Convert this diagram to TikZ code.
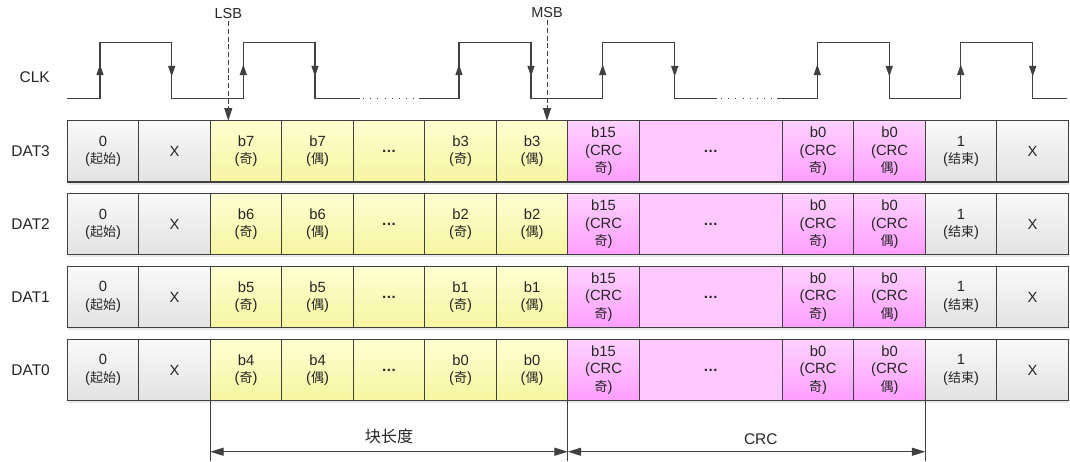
\documentclass[tikz,border=0pt]{standalone}
\usepackage{fontspec}
\setmainfont{Liberation Sans}
\newfontfamily\cjk{Noto Sans CJK SC}[Scale=0.88]
\usetikzlibrary{arrows.meta, positioning, calc, shadows}
\definecolor{wire}{RGB}{64,64,64}
\definecolor{idlehi}{RGB}{249,249,249}
\definecolor{idlelo}{RGB}{226,226,226}
\definecolor{datahi}{RGB}{255,255,210}
\definecolor{datalo}{RGB}{245,245,160}
\definecolor{crchi}{RGB}{255,210,255}
\definecolor{crclo}{RGB}{255,158,255}
\definecolor{crcflat}{RGB}{255,200,255}

\begin{document}
\begin{tikzpicture}[x=0.025cm, y=-0.025cm,
  cell/.style={rectangle, draw=wire, line width=0.75pt, text=black!85, minimum width=1.787cm, minimum height=1.533cm, inner sep=0pt, outer sep=0pt, align=center, font=\fontsize{10.5}{12.5}\selectfont, drop shadow={shadow xshift=0.4pt, shadow yshift=-1.8pt, opacity=0.18}},
  idlecell/.style={cell, top color=idlehi, bottom color=idlelo},
  datacell/.style={cell, top color=datahi, bottom color=datalo},
  crccell/.style={cell, top color=crchi, bottom color=crclo},
  crcdots/.style={cell, fill=crcflat, minimum width=3.574cm},
  sig/.style={font=\fontsize{11}{13}\selectfont, text=black!85, inner sep=0pt},
  clkwave/.style={wire, line width=0.8pt},
  edgearr/.style={wire, line width=0.8pt, -{Triangle[length=7.5pt, width=5pt]}},
  probe/.style={wire, line width=0.7pt, dash pattern=on 3.5pt off 2pt, -{Triangle[length=9pt, width=5.7pt]}},
  dimarr/.style={wire, line width=0.7pt, {Triangle[length=9.5pt, width=5.7pt]}-{Triangle[length=9.5pt, width=5.7pt]}}
]
\useasboundingbox (0,0) rectangle (1070,461);

% data lines
\foreach \lane/\hib/\lob [count=\r from 0] in {DAT3/b7/b3, DAT2/b6/b2, DAT1/b5/b1, DAT0/b4/b0} {
  \node[idlecell] (\lane-0) at (103.04, {151.35+72.9*\r}) {0\\({\cjk 起始})};
  \node[idlecell, right=0pt of \lane-0] (\lane-1) {X};
  \node[datacell, right=0pt of \lane-1] (\lane-2) {\hib\\({\cjk 奇})};
  \node[datacell, right=0pt of \lane-2] (\lane-3) {\hib\\({\cjk 偶})};
  \node[datacell, right=0pt of \lane-3] (\lane-4) {\textbf{…}};
  \node[datacell, right=0pt of \lane-4] (\lane-5) {\lob\\({\cjk 奇})};
  \node[datacell, right=0pt of \lane-5] (\lane-6) {\lob\\({\cjk 偶})};
  \node[crccell, right=0pt of \lane-6] (\lane-7) {b15\\(CRC\\{\cjk 奇})};
  \node[crcdots, right=0pt of \lane-7] (\lane-8) {\textbf{…}};
  \node[crccell, right=0pt of \lane-8] (\lane-9) {b0\\(CRC\\{\cjk 奇})};
  \node[crccell, right=0pt of \lane-9] (\lane-10) {b0\\(CRC\\{\cjk 偶})};
  \node[idlecell, right=0pt of \lane-10] (\lane-11) {1\\({\cjk 结束})};
  \node[idlecell, right=0pt of \lane-11] (\lane-12) {X};
  \node[sig, left=0.43cm of \lane-0] (\lane-name) {\lane};
}

% clock
\node[sig, anchor=east] (clk) at (50,77) {CLK};
\draw[clkwave] (67.3,98.7) -- (100,98.7) -- (100,42.7) -- (171.7,42.7) -- (171.7,98.7)
  -- (243.3,98.7) -- (243.3,42.7) -- (315,42.7) -- (315,98.7) -- (360,98.7);
\draw[clkwave, line width=0.9pt, dash pattern=on 0.8pt off 4.3pt] (363,98.7) -- (416,98.7);
\draw[clkwave] (419,98.7) -- (459,98.7) -- (459,42.7) -- (531,42.7) -- (531,98.7)
  -- (602.7,98.7) -- (602.7,42.7) -- (674.7,42.7) -- (674.7,98.7) -- (717,98.7);
\draw[clkwave, line width=0.9pt, dash pattern=on 0.8pt off 4.3pt] (721,98.7) -- (774,98.7);
\draw[clkwave] (777,98.7) -- (817.3,98.7) -- (817.3,42.7) -- (889.3,42.7) -- (889.3,98.7)
  -- (960.7,98.7) -- (960.7,42.7) -- (1032.7,42.7) -- (1032.7,98.7) -- (1066.7,98.7);
\foreach \x in {100,243.3,459,602.7,817.3,960.7}
  \draw[edgearr] (\x,98.7) -- (\x,64.5);
\foreach \x in {171.7,315,531,674.7,889.3,1032.7}
  \draw[edgearr] (\x,42.7) -- (\x,76.5);

% LSB / MSB
\node[sig, font=\fontsize{10.3}{12}\selectfont, outer sep=1.5pt] (lsb) at (228.3,14) {LSB};
\node[sig, font=\fontsize{10.3}{12}\selectfont, outer sep=1.5pt] (msb) at (547,13) {MSB};
\draw[probe] (lsb) -- (lsb |- DAT3-2.north);
\draw[probe] (msb) -- (msb |- DAT3-6.north);

% lengths
\coordinate (blk-a) at ($(DAT0-2.south west)+(0,51)$);
\coordinate (blk-b) at ($(DAT0-7.south west)+(0,51)$);
\coordinate (crc-b) at ($(DAT0-11.south west)+(0,51)$);
\draw[wire, line width=0.7pt] (DAT0-2.south west) -- ++(0,60.3);
\draw[wire, line width=0.7pt] (DAT0-7.south west) -- ++(0,60.3);
\draw[wire, line width=0.7pt] (DAT0-11.south west) -- ++(0,60.3);
\draw[dimarr] (blk-a) -- node[sig, above=5pt, font=\fontsize{13}{15}\selectfont] {\cjk 块长度} (blk-b);
\draw[dimarr] (blk-b) -- node[sig, pos=0.54, above=5pt] {CRC} (crc-b);
\end{tikzpicture}
\end{document}
